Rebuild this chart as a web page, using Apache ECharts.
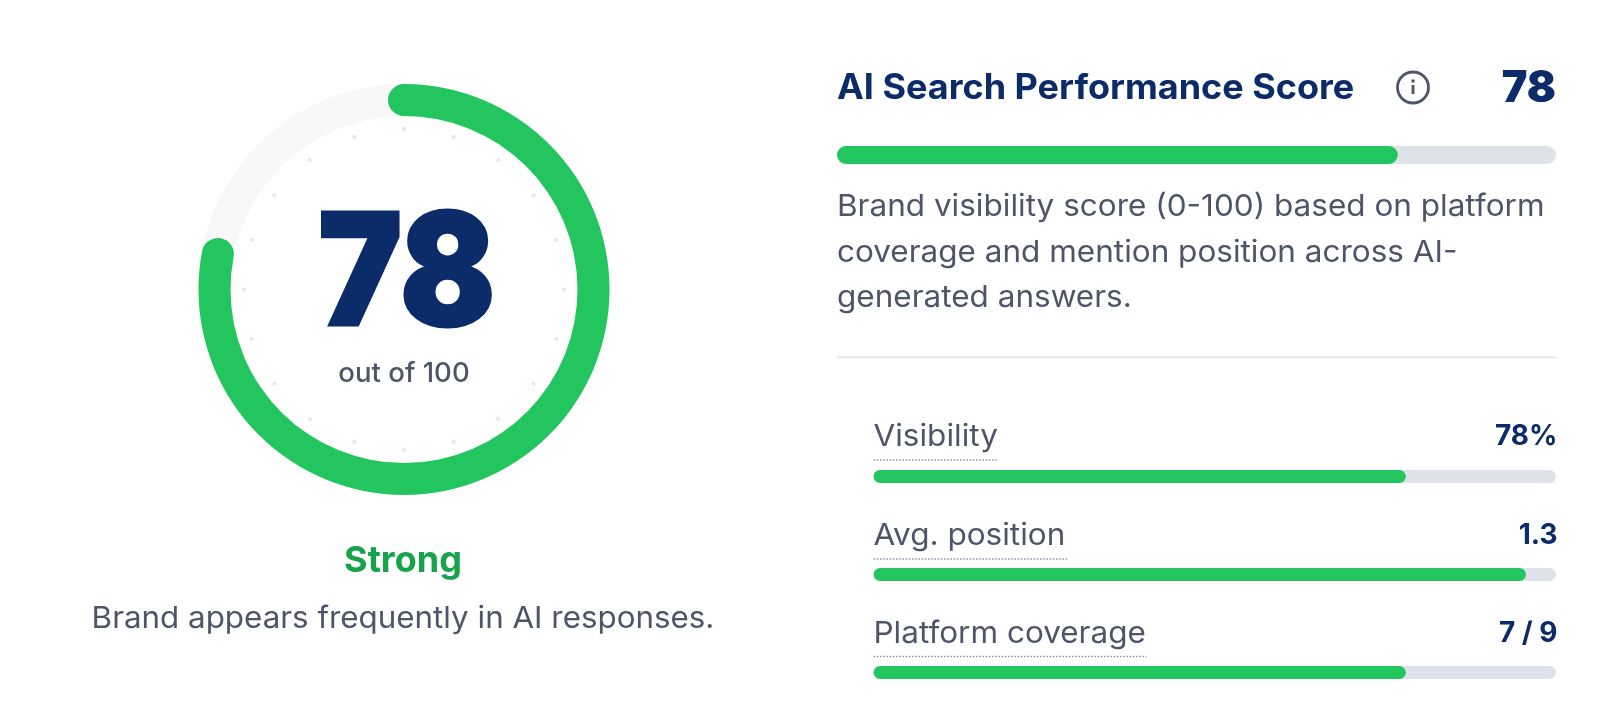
<!DOCTYPE html>
<html>
<head>
<meta charset="utf-8">
<title>AI Search Performance Score</title>
<script src="https://cdn.jsdelivr.net/npm/echarts@6/dist/echarts.min.js"></script>
<style>
html, body { margin: 0; padding: 0; background: #fff; }
#main { width: 1600px; height: 724px; }
</style>
</head>
<body>
<div id="main"></div>
<script>
// data
var score = 78;
var scoreMax = 100;
var barNames = ['AI Search Performance Score', 'Visibility', 'Avg. position', 'Platform coverage'];
var barValues = [78, 78, 95.6, 78];
var barValueLabels = ['78', '78%', '1.3', '7 / 9'];
var descLines = ['Brand visibility score (0-100) based on platform', 'coverage and mention position across AI-', 'generated answers.'];

var green = '#22c55e';
var trackGrey = '#dfe2e9';
var navy = '#0b2c69';
var slate = '#4f5568';
var font = 'Inter';

var chart = echarts.init(document.getElementById('main'));

// one grid per bar, tops
var barLeft = [837, 873.5, 873.5, 873.5];
var barTop = [146, 470, 568, 666];
var barHeight = [18, 13, 13, 13];
var underlineWidth = [0, 125, 195, 273];

var grids = [], xAxes = [], yAxes = [], series = [];
barValues.forEach(function (v, i) {
    grids.push({ left: barLeft[i], width: 1556 - barLeft[i], top: barTop[i], height: barHeight[i] });
    xAxes.push({ type: 'value', gridIndex: i, min: 0, max: 100, show: false });
    yAxes.push({ type: 'category', gridIndex: i, data: [barNames[i]], show: false });
    series.push({
        type: 'bar',
        xAxisIndex: i,
        yAxisIndex: i,
        data: [v],
        barWidth: '100%',
        silent: true,
        animation: false,
        showBackground: true,
        backgroundStyle: { color: trackGrey, borderRadius: barHeight[i] / 2 },
        itemStyle: { color: green, borderRadius: barHeight[i] / 2 }
    });
});

// ring
series.push({
    type: 'gauge',
    center: [404, 289.5],
    radius: 205.5,
    startAngle: 90,
    endAngle: -270,
    min: 0,
    max: scoreMax,
    splitNumber: 20,
    animation: false,
    silent: true,
    pointer: { show: false },
    progress: { show: true, roundCap: true, width: 32, itemStyle: { color: green } },
    axisLine: { lineStyle: { width: 32, color: [[1, '#f8f8f9']] } },
    axisTick: { show: false },
    splitLine: { distance: 13, length: 0.5, lineStyle: { width: 4, color: '#e8e9ec', cap: 'round' } },
    axisLabel: { show: false },
    detail: { show: false },
    title: { show: false },
    data: [{ value: score }]
});

// scaleX stretches the text a little, the reference font runs wider than Inter
function txt(x, y, text, size, weight, color, align, scaleX) {
    return {
        type: 'text',
        x: x,
        y: y,
        scaleX: scaleX || 1,
        silent: true,
        style: {
            text: text,
            fill: color,
            font: weight + ' ' + size + 'px ' + font,
            textAlign: align || 'left',
            textVerticalAlign: 'middle'
        }
    };
}

// big number is heavier in the reference, so give it a stroke too
var bigScore = txt(407, 278, String(score), 156, 900, navy, 'center', 0.9);
bigScore.style.stroke = navy;
bigScore.style.lineWidth = 3;

var graphics = [
    bigScore,
    txt(404, 374, 'out of ' + scoreMax, 27, 500, slate, 'center', 1.02),
    txt(403, 561, 'Strong', 36, 700, '#16a34a', 'center'),
    txt(403, 619, 'Brand appears frequently in AI responses.', 30, 400, slate, 'center', 1.045),
    txt(837, 88.5, barNames[0], 35, 700, navy, 'left', 1.028),
    txt(1556, 89, barValueLabels[0], 44, 900, navy, 'right', 0.98),
    // info icon
    { type: 'circle', silent: true, shape: { cx: 1413, cy: 87.5, r: 15.5 }, style: { fill: 'none', stroke: slate, lineWidth: 2.8 } },
    { type: 'circle', silent: true, shape: { cx: 1413, cy: 81, r: 1.8 }, style: { fill: slate } },
    { type: 'rect', silent: true, shape: { x: 1411.6, y: 85, width: 2.8, height: 9 }, style: { fill: slate } },
    // divider
    { type: 'rect', silent: true, shape: { x: 837, y: 356.5, width: 719, height: 1.5 }, style: { fill: '#e0e2e8' } }
];

var descY = [207, 253, 298];
descLines.forEach(function (line, i) {
    graphics.push(txt(837, descY[i], line, 30, 400, slate, 'left', 1.05));
});

var labelY = [0, 437, 536, 634];
var underlineY = [0, 460, 559, 656.5];
for (var i = 1; i < barNames.length; i++) {
    graphics.push(txt(873.5, labelY[i], barNames[i], 30, 400, slate, 'left', 1.05));
    graphics.push(txt(1557.5, labelY[i], barValueLabels[i], 28, 700, navy, 'right'));
    graphics.push({
        type: 'line',
        silent: true,
        shape: { x1: 873.5, y1: underlineY[i], x2: 873.5 + underlineWidth[i], y2: underlineY[i] },
        style: { stroke: '#9298a6', lineWidth: 1.6, lineDash: [1.6, 1.6] }
    });
}

chart.setOption({
    backgroundColor: '#ffffff',
    animation: false,
    grid: grids,
    xAxis: xAxes,
    yAxis: yAxes,
    series: series,
    graphic: graphics
});
</script>
</body>
</html>
